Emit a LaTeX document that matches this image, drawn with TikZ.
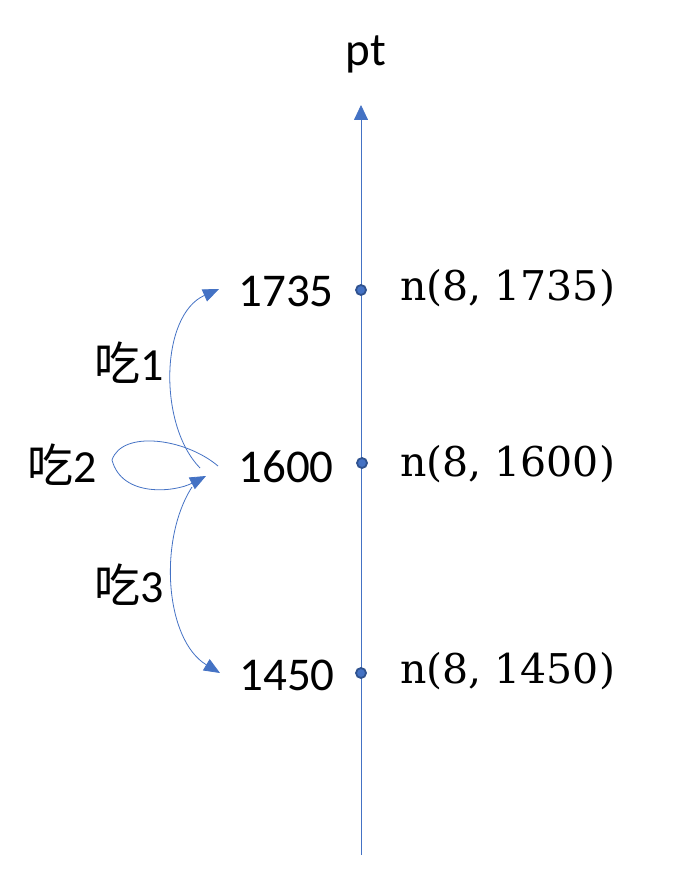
\documentclass[tikz,border=0pt]{standalone}
\usepackage{fontspec}
\setmainfont{Carlito}
\newfontfamily\cjk{Noto Sans CJK SC}
\newfontfamily\nfont{DejaVu Serif}
\usetikzlibrary{arrows.meta}
\definecolor{accent}{HTML}{4472C4}
\definecolor{accentdark}{HTML}{2F528F}

\begin{document}
\begin{tikzpicture}[x=1pt,y=-1pt,
  val/.style={inner sep=0pt,font=\fontsize{47}{56}\selectfont},
  nlab/.style={inner sep=0pt,anchor=west,font=\nfont\fontsize{41}{50}\selectfont},
  eat/.style={inner sep=0pt,font=\fontsize{46}{55}\selectfont},
  move/.style={-{Triangle[length=16pt,width=13pt]},color=accent,line width=0.8pt},
  dot/.style={circle,fill=accent,draw=accentdark,line width=1.8pt,inner sep=0pt,minimum size=10pt}]
\useasboundingbox (0,0) rectangle (677,888);

%draw the pt axis
\coordinate (bot) at (361,855);
\coordinate (top) at (361,105);
\draw[-{Triangle[length=15pt,width=14pt]},color=accent,line width=0.8pt] (bot) -- (top);
\node[val] (pt) at (366,54) {pt};

%points on the axis, with their values and states
\node[dot] (p1735) at (361,290) {};
\node[dot] (p1600) at (362,463) {};
\node[dot] (p1450) at (361,673) {};
\node[val] (v1735) at (286,291) {1735};
\node[val] (v1600) at (286,467) {1600};
\node[val] (v1450) at (287,675) {1450};
\node[nlab] (n1735) at (400,288) {n(8, 1735)};
\node[nlab] (n1600) at (400,464) {n(8, 1600)};
\node[nlab] (n1450) at (400,671) {n(8, 1450)};

%moves between the values
\coordinate (s1) at (200,468);
\coordinate (e1) at (219,289);
\coordinate (s2) at (218,466);
\coordinate (e2) at (206,476);
\coordinate (s3) at (192,487);
\coordinate (e3) at (220,673);
\draw[move] (s1) .. controls (158,425) and (160,315) .. (e1);
\draw[move] (s2) .. controls (185,438) and (122,430) .. (112,460)
                 .. controls (122,498) and (175,492) .. (e2);
\draw[move] (s3) .. controls (158,540) and (165,640) .. (e3);
\node[eat] (eat1) at (129,363) {{\cjk 吃}1};
\node[eat] (eat2) at (62,465) {{\cjk 吃}2};
\node[eat] (eat3) at (129,585) {{\cjk 吃}3};

\end{tikzpicture}
\end{document}
